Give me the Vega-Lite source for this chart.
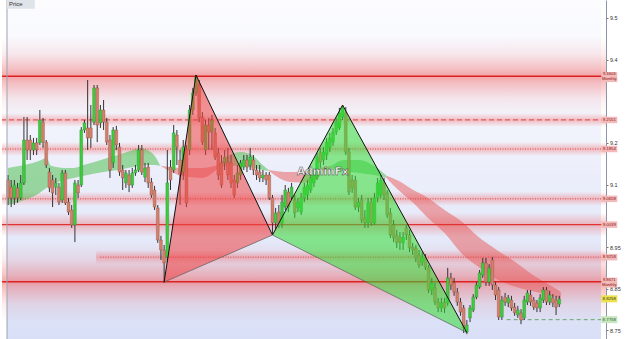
{
  "$schema": "https://vega.github.io/schema/vega-lite/v6.json",
  "width": 604,
  "height": 339,
  "autosize": {"type": "none"},
  "padding": {"left": 2, "right": 19, "top": 0, "bottom": 0},
  "background": "#ffffff",
  "config": {"view": {"stroke": null}, "font": "Liberation Sans"},
  "datasets": {
    "candles": [
      {"t":0,"o":9.111,"h":9.123,"l":9.051,"c":9.068},
      {"t":1,"o":9.094,"h":9.111,"l":9.046,"c":9.068},
      {"t":2,"o":9.068,"h":9.111,"l":9.051,"c":9.099},
      {"t":3,"o":9.092,"h":9.104,"l":9.056,"c":9.068},
      {"t":4,"o":9.068,"h":9.123,"l":9.063,"c":9.104},
      {"t":5,"o":9.104,"h":9.262,"l":9.099,"c":9.207},
      {"t":6,"o":9.207,"h":9.262,"l":9.159,"c":9.183},
      {"t":7,"o":9.207,"h":9.219,"l":9.159,"c":9.183},
      {"t":8,"o":9.183,"h":9.212,"l":9.171,"c":9.200},
      {"t":9,"o":9.200,"h":9.212,"l":9.171,"c":9.183},
      {"t":10,"o":9.200,"h":9.279,"l":9.195,"c":9.255},
      {"t":11,"o":9.250,"h":9.260,"l":9.188,"c":9.202},
      {"t":12,"o":9.202,"h":9.207,"l":9.140,"c":9.147},
      {"t":13,"o":9.130,"h":9.140,"l":9.082,"c":9.092},
      {"t":14,"o":9.111,"h":9.123,"l":9.046,"c":9.080},
      {"t":15,"o":9.094,"h":9.116,"l":9.075,"c":9.104},
      {"t":16,"o":9.094,"h":9.104,"l":9.051,"c":9.058},
      {"t":17,"o":9.063,"h":9.135,"l":9.056,"c":9.128},
      {"t":18,"o":9.128,"h":9.135,"l":9.051,"c":9.056},
      {"t":19,"o":9.058,"h":9.068,"l":9.027,"c":9.034},
      {"t":20,"o":9.039,"h":9.051,"l":8.996,"c":9.003},
      {"t":21,"o":9.003,"h":9.111,"l":8.962,"c":9.104},
      {"t":22,"o":9.099,"h":9.111,"l":9.068,"c":9.080},
      {"t":23,"o":9.099,"h":9.238,"l":9.094,"c":9.231},
      {"t":24,"o":9.231,"h":9.255,"l":9.224,"c":9.248},
      {"t":25,"o":9.236,"h":9.351,"l":9.183,"c":9.212},
      {"t":26,"o":9.236,"h":9.291,"l":9.188,"c":9.212},
      {"t":27,"o":9.250,"h":9.339,"l":9.243,"c":9.332},
      {"t":28,"o":9.332,"h":9.339,"l":9.202,"c":9.243},
      {"t":29,"o":9.248,"h":9.291,"l":9.236,"c":9.279},
      {"t":30,"o":9.279,"h":9.303,"l":9.231,"c":9.250},
      {"t":31,"o":9.250,"h":9.260,"l":9.195,"c":9.202},
      {"t":32,"o":9.207,"h":9.219,"l":9.116,"c":9.135},
      {"t":33,"o":9.152,"h":9.238,"l":9.140,"c":9.231},
      {"t":34,"o":9.231,"h":9.241,"l":9.183,"c":9.195},
      {"t":35,"o":9.190,"h":9.200,"l":9.121,"c":9.130},
      {"t":36,"o":9.135,"h":9.147,"l":9.087,"c":9.116},
      {"t":37,"o":9.104,"h":9.135,"l":9.092,"c":9.128},
      {"t":38,"o":9.123,"h":9.135,"l":9.082,"c":9.099},
      {"t":39,"o":9.099,"h":9.140,"l":9.092,"c":9.128},
      {"t":40,"o":9.128,"h":9.147,"l":9.121,"c":9.135},
      {"t":41,"o":9.135,"h":9.195,"l":9.130,"c":9.183},
      {"t":42,"o":9.183,"h":9.195,"l":9.123,"c":9.130},
      {"t":43,"o":9.118,"h":9.152,"l":9.106,"c":9.140},
      {"t":44,"o":9.142,"h":9.152,"l":9.092,"c":9.104},
      {"t":45,"o":9.106,"h":9.116,"l":9.068,"c":9.075},
      {"t":46,"o":9.087,"h":9.097,"l":9.039,"c":9.046},
      {"t":47,"o":9.044,"h":9.051,"l":8.960,"c":8.967},
      {"t":48,"o":8.967,"h":8.977,"l":8.919,"c":8.943},
      {"t":49,"o":8.943,"h":8.955,"l":8.864,"c":8.912},
      {"t":50,"o":8.926,"h":9.183,"l":8.914,"c":9.104},
      {"t":51,"o":9.142,"h":9.159,"l":9.087,"c":9.111},
      {"t":52,"o":9.135,"h":9.243,"l":9.128,"c":9.224},
      {"t":53,"o":9.219,"h":9.231,"l":9.147,"c":9.190},
      {"t":54,"o":9.159,"h":9.183,"l":9.051,"c":9.123},
      {"t":55,"o":9.130,"h":9.207,"l":9.111,"c":9.190},
      {"t":56,"o":9.183,"h":9.195,"l":9.046,"c":9.056},
      {"t":57,"o":9.183,"h":9.291,"l":9.171,"c":9.279},
      {"t":58,"o":9.279,"h":9.332,"l":9.267,"c":9.320},
      {"t":59,"o":9.320,"h":9.363,"l":9.313,"c":9.358},
      {"t":60,"o":9.339,"h":9.351,"l":9.250,"c":9.260},
      {"t":61,"o":9.262,"h":9.274,"l":9.195,"c":9.202},
      {"t":62,"o":9.183,"h":9.255,"l":9.171,"c":9.243},
      {"t":63,"o":9.243,"h":9.260,"l":9.183,"c":9.226},
      {"t":64,"o":9.226,"h":9.267,"l":9.183,"c":9.255},
      {"t":65,"o":9.224,"h":9.236,"l":9.159,"c":9.166},
      {"t":66,"o":9.176,"h":9.188,"l":9.111,"c":9.123},
      {"t":67,"o":9.152,"h":9.171,"l":9.092,"c":9.099},
      {"t":68,"o":9.152,"h":9.183,"l":9.135,"c":9.166},
      {"t":69,"o":9.154,"h":9.188,"l":9.111,"c":9.123},
      {"t":70,"o":9.152,"h":9.171,"l":9.092,"c":9.104},
      {"t":71,"o":9.111,"h":9.123,"l":9.068,"c":9.075},
      {"t":72,"o":9.104,"h":9.147,"l":9.092,"c":9.128},
      {"t":73,"o":9.123,"h":9.159,"l":9.111,"c":9.152},
      {"t":74,"o":9.142,"h":9.171,"l":9.135,"c":9.159},
      {"t":75,"o":9.159,"h":9.171,"l":9.130,"c":9.142},
      {"t":76,"o":9.147,"h":9.188,"l":9.135,"c":9.166},
      {"t":77,"o":9.159,"h":9.171,"l":9.123,"c":9.135},
      {"t":78,"o":9.135,"h":9.147,"l":9.111,"c":9.123},
      {"t":79,"o":9.130,"h":9.147,"l":9.106,"c":9.116},
      {"t":80,"o":9.116,"h":9.135,"l":9.106,"c":9.123},
      {"t":81,"o":9.123,"h":9.130,"l":9.099,"c":9.111},
      {"t":82,"o":9.123,"h":9.130,"l":9.063,"c":9.068},
      {"t":83,"o":9.068,"h":9.075,"l":8.979,"c":9.008},
      {"t":84,"o":9.008,"h":9.044,"l":8.991,"c":9.032},
      {"t":85,"o":9.034,"h":9.051,"l":8.996,"c":9.003},
      {"t":86,"o":9.008,"h":9.075,"l":8.996,"c":9.058},
      {"t":87,"o":9.046,"h":9.099,"l":9.039,"c":9.087},
      {"t":88,"o":9.082,"h":9.092,"l":9.034,"c":9.046},
      {"t":89,"o":9.070,"h":9.104,"l":9.063,"c":9.094},
      {"t":90,"o":9.063,"h":9.075,"l":9.020,"c":9.032},
      {"t":91,"o":9.044,"h":9.068,"l":9.034,"c":9.058},
      {"t":92,"o":9.034,"h":9.080,"l":9.027,"c":9.068},
      {"t":93,"o":9.068,"h":9.104,"l":9.058,"c":9.094},
      {"t":94,"o":9.075,"h":9.111,"l":9.063,"c":9.099},
      {"t":95,"o":9.087,"h":9.130,"l":9.080,"c":9.116},
      {"t":96,"o":9.104,"h":9.135,"l":9.094,"c":9.123},
      {"t":97,"o":9.118,"h":9.176,"l":9.111,"c":9.166},
      {"t":98,"o":9.176,"h":9.188,"l":9.140,"c":9.154},
      {"t":99,"o":9.159,"h":9.190,"l":9.147,"c":9.178},
      {"t":100,"o":9.171,"h":9.212,"l":9.159,"c":9.202},
      {"t":101,"o":9.188,"h":9.224,"l":9.178,"c":9.212},
      {"t":102,"o":9.202,"h":9.236,"l":9.193,"c":9.226},
      {"t":103,"o":9.226,"h":9.260,"l":9.219,"c":9.250},
      {"t":104,"o":9.236,"h":9.284,"l":9.231,"c":9.272},
      {"t":105,"o":9.262,"h":9.291,"l":9.255,"c":9.284},
      {"t":106,"o":9.272,"h":9.286,"l":9.171,"c":9.178},
      {"t":107,"o":9.178,"h":9.188,"l":9.075,"c":9.082},
      {"t":108,"o":9.111,"h":9.123,"l":9.080,"c":9.092},
      {"t":109,"o":9.111,"h":9.121,"l":9.039,"c":9.046},
      {"t":110,"o":9.046,"h":9.068,"l":9.034,"c":9.058},
      {"t":111,"o":9.063,"h":9.075,"l":9.008,"c":9.015},
      {"t":112,"o":9.020,"h":9.039,"l":8.996,"c":9.008},
      {"t":113,"o":9.008,"h":9.068,"l":8.996,"c":9.056},
      {"t":114,"o":9.058,"h":9.068,"l":9.001,"c":9.008},
      {"t":115,"o":9.008,"h":9.080,"l":9.003,"c":9.068},
      {"t":116,"o":9.068,"h":9.116,"l":9.058,"c":9.104},
      {"t":117,"o":9.075,"h":9.123,"l":9.068,"c":9.111},
      {"t":118,"o":9.104,"h":9.116,"l":9.063,"c":9.075},
      {"t":119,"o":9.080,"h":9.087,"l":9.020,"c":9.027},
      {"t":120,"o":9.032,"h":9.044,"l":8.972,"c":8.979},
      {"t":121,"o":9.003,"h":9.015,"l":8.962,"c":8.972},
      {"t":122,"o":8.979,"h":8.991,"l":8.948,"c":8.960},
      {"t":123,"o":8.974,"h":8.986,"l":8.943,"c":8.962},
      {"t":124,"o":8.960,"h":8.986,"l":8.943,"c":8.974},
      {"t":125,"o":8.996,"h":9.003,"l":8.967,"c":8.979},
      {"t":126,"o":8.979,"h":8.991,"l":8.938,"c":8.948},
      {"t":127,"o":8.950,"h":8.960,"l":8.931,"c":8.943},
      {"t":128,"o":8.948,"h":8.955,"l":8.914,"c":8.924},
      {"t":129,"o":8.931,"h":8.943,"l":8.900,"c":8.907},
      {"t":130,"o":8.914,"h":8.938,"l":8.905,"c":8.926},
      {"t":131,"o":8.924,"h":8.933,"l":8.895,"c":8.902},
      {"t":132,"o":8.900,"h":8.907,"l":8.840,"c":8.847},
      {"t":133,"o":8.847,"h":8.876,"l":8.835,"c":8.864},
      {"t":134,"o":8.852,"h":8.864,"l":8.811,"c":8.818},
      {"t":135,"o":8.818,"h":8.828,"l":8.794,"c":8.804},
      {"t":136,"o":8.804,"h":8.828,"l":8.794,"c":8.816},
      {"t":137,"o":8.818,"h":8.828,"l":8.792,"c":8.804},
      {"t":138,"o":8.816,"h":8.900,"l":8.809,"c":8.876},
      {"t":139,"o":8.876,"h":8.888,"l":8.847,"c":8.859},
      {"t":140,"o":8.864,"h":8.876,"l":8.833,"c":8.842},
      {"t":141,"o":8.842,"h":8.852,"l":8.809,"c":8.818},
      {"t":142,"o":8.818,"h":8.828,"l":8.785,"c":8.794},
      {"t":143,"o":8.804,"h":8.811,"l":8.744,"c":8.756},
      {"t":144,"o":8.746,"h":8.775,"l":8.741,"c":8.763},
      {"t":145,"o":8.780,"h":8.811,"l":8.770,"c":8.804},
      {"t":146,"o":8.799,"h":8.837,"l":8.794,"c":8.830},
      {"t":147,"o":8.830,"h":8.866,"l":8.825,"c":8.859},
      {"t":148,"o":8.854,"h":8.895,"l":8.850,"c":8.888},
      {"t":149,"o":8.883,"h":8.924,"l":8.876,"c":8.912},
      {"t":150,"o":8.912,"h":8.924,"l":8.857,"c":8.866},
      {"t":151,"o":8.866,"h":8.909,"l":8.857,"c":8.900},
      {"t":152,"o":8.919,"h":8.926,"l":8.847,"c":8.859},
      {"t":153,"o":8.859,"h":8.866,"l":8.823,"c":8.835},
      {"t":154,"o":8.847,"h":8.854,"l":8.775,"c":8.782},
      {"t":155,"o":8.782,"h":8.833,"l":8.775,"c":8.823},
      {"t":156,"o":8.830,"h":8.840,"l":8.809,"c":8.818},
      {"t":157,"o":8.816,"h":8.835,"l":8.806,"c":8.828},
      {"t":158,"o":8.823,"h":8.833,"l":8.797,"c":8.804},
      {"t":159,"o":8.806,"h":8.816,"l":8.785,"c":8.792},
      {"t":160,"o":8.787,"h":8.809,"l":8.780,"c":8.799},
      {"t":161,"o":8.792,"h":8.801,"l":8.765,"c":8.775},
      {"t":162,"o":8.780,"h":8.833,"l":8.775,"c":8.823},
      {"t":163,"o":8.818,"h":8.847,"l":8.811,"c":8.840},
      {"t":164,"o":8.835,"h":8.847,"l":8.809,"c":8.818},
      {"t":165,"o":8.823,"h":8.830,"l":8.799,"c":8.806},
      {"t":166,"o":8.816,"h":8.823,"l":8.794,"c":8.804},
      {"t":167,"o":8.804,"h":8.837,"l":8.794,"c":8.828},
      {"t":168,"o":8.823,"h":8.854,"l":8.816,"c":8.847},
      {"t":169,"o":8.847,"h":8.854,"l":8.811,"c":8.818},
      {"t":170,"o":8.818,"h":8.845,"l":8.811,"c":8.835},
      {"t":171,"o":8.828,"h":8.837,"l":8.806,"c":8.816},
      {"t":172,"o":8.823,"h":8.833,"l":8.787,"c":8.806},
      {"t":173,"o":8.813,"h":8.833,"l":8.806,"c":8.825}
    ],
    "ribbon": [
      {"t":0,"hi":9.140,"lo":9.051,"seg":"a","trend":"up"},
      {"t":5.2,"hi":9.147,"lo":9.063,"seg":"a","trend":"up"},
      {"t":9.9,"hi":9.157,"lo":9.080,"seg":"a","trend":"up"},
      {"t":12,"hi":9.164,"lo":9.092,"seg":"a","trend":"up"},
      {"t":13.6,"hi":9.145,"lo":9.099,"seg":"a","trend":"up"},
      {"t":17.6,"hi":9.140,"lo":9.111,"seg":"a","trend":"up"},
      {"t":20.7,"hi":9.140,"lo":9.116,"seg":"a","trend":"up"},
      {"t":23.8,"hi":9.147,"lo":9.121,"seg":"a","trend":"up"},
      {"t":29.9,"hi":9.161,"lo":9.130,"seg":"a","trend":"up"},
      {"t":34.6,"hi":9.171,"lo":9.135,"seg":"a","trend":"up"},
      {"t":39.2,"hi":9.183,"lo":9.142,"seg":"a","trend":"up"},
      {"t":41.4,"hi":9.188,"lo":9.145,"seg":"a","trend":"up"},
      {"t":43.8,"hi":9.183,"lo":9.147,"seg":"a","trend":"up"},
      {"t":46,"hi":9.169,"lo":9.147,"seg":"a","trend":"up"},
      {"t":47.8,"hi":9.145,"lo":9.145,"seg":"a","trend":"up"},
      {"t":47.8,"hi":9.145,"lo":9.145,"seg":"b","trend":"down"},
      {"t":54.6,"hi":9.140,"lo":9.121,"seg":"b","trend":"down"},
      {"t":60.8,"hi":9.140,"lo":9.116,"seg":"b","trend":"down"},
      {"t":66,"hi":9.147,"lo":9.140,"seg":"b","trend":"down"},
      {"t":66,"hi":9.147,"lo":9.140,"seg":"c","trend":"up"},
      {"t":69.4,"hi":9.171,"lo":9.145,"seg":"c","trend":"up"},
      {"t":73.1,"hi":9.178,"lo":9.145,"seg":"c","trend":"up"},
      {"t":76.9,"hi":9.169,"lo":9.140,"seg":"c","trend":"up"},
      {"t":79.9,"hi":9.147,"lo":9.135,"seg":"c","trend":"up"},
      {"t":81.8,"hi":9.135,"lo":9.133,"seg":"c","trend":"up"},
      {"t":81.8,"hi":9.135,"lo":9.133,"seg":"d","trend":"down"},
      {"t":88.6,"hi":9.130,"lo":9.106,"seg":"d","trend":"down"},
      {"t":94.8,"hi":9.135,"lo":9.104,"seg":"d","trend":"down"},
      {"t":99.4,"hi":9.142,"lo":9.130,"seg":"d","trend":"down"},
      {"t":101.5,"hi":9.145,"lo":9.140,"seg":"d","trend":"down"},
      {"t":101.5,"hi":9.145,"lo":9.140,"seg":"e","trend":"up"},
      {"t":105.6,"hi":9.159,"lo":9.130,"seg":"e","trend":"up"},
      {"t":110.2,"hi":9.159,"lo":9.128,"seg":"e","trend":"up"},
      {"t":114.8,"hi":9.145,"lo":9.123,"seg":"e","trend":"up"},
      {"t":118.8,"hi":9.121,"lo":9.116,"seg":"e","trend":"up"},
      {"t":118.8,"hi":9.121,"lo":9.116,"seg":"f","trend":"down"},
      {"t":122.5,"hi":9.109,"lo":9.087,"seg":"f","trend":"down"},
      {"t":127.2,"hi":9.087,"lo":9.056,"seg":"f","trend":"down"},
      {"t":131.8,"hi":9.068,"lo":9.020,"seg":"f","trend":"down"},
      {"t":137,"hi":9.039,"lo":8.984,"seg":"f","trend":"down"},
      {"t":142.6,"hi":9.010,"lo":8.933,"seg":"f","trend":"down"},
      {"t":147.2,"hi":8.977,"lo":8.905,"seg":"f","trend":"down"},
      {"t":153.4,"hi":8.943,"lo":8.873,"seg":"f","trend":"down"},
      {"t":159.6,"hi":8.912,"lo":8.854,"seg":"f","trend":"down"},
      {"t":165.7,"hi":8.878,"lo":8.842,"seg":"f","trend":"down"},
      {"t":170.4,"hi":8.857,"lo":8.833,"seg":"f","trend":"down"},
      {"t":173.5,"hi":8.842,"lo":8.823,"seg":"f","trend":"down"}
    ],
    "levels": [
      {"price":9.3603,"label":"9.3603","tf":"Monthly"},
      {"price":9.2551,"label":"9.2551","tf":""},
      {"price":9.1854,"label":"9.1854","tf":""},
      {"price":9.0658,"label":"9.0658","tf":""},
      {"price":9.0039,"label":"9.0039","tf":""},
      {"price":8.9258,"label":"8.9258","tf":""},
      {"price":8.8671,"label":"8.8671","tf":"Monthly"}
    ],
    "tags": [
      {"price":8.8258,"label":"8.8258","kind":"bid"},
      {"price":8.7758,"label":"8.7758","kind":"target"}
    ],
    "patterns": [
      {"pattern":"P1","k":0,"t":49,"p":8.866},
      {"pattern":"P1","k":1,"t":59,"p":9.363},
      {"pattern":"P1","k":2,"t":83,"p":8.979},
      {"pattern":"P2","k":0,"t":83,"p":8.979},
      {"pattern":"P2","k":1,"t":105,"p":9.291},
      {"pattern":"P2","k":2,"t":144,"p":8.745}
    ]
  },
  "layer": [
    {
      "data": {"name": "candles"},
      "mark": {"type": "rule", "opacity": 0},
      "encoding": {
        "x": {"field": "t", "type": "quantitative", "scale": {"domain": [-0.31, 186.1], "nice": false, "zero": false}, "axis": null},
        "y": {"field": "l", "type": "quantitative", "scale": {"domain": [8.7294, 9.543], "nice": false, "zero": false},
          "axis": {"orient": "right", "values": [8.75,8.8,8.85,8.9,8.95,9.05,9.1,9.15,9.2,9.3,9.4,9.45,9.5], "format": ".2~f", "labelFontSize": 5.5, "labelColor": "#333333", "tickSize": 2, "tickColor": "#777777", "domainColor": "#8a96a8", "labelPadding": 1.5, "grid": false, "title": null, "labelOverlap": false, "labelFlush": false,
            "encode": {"labels": {"update": {"dy": {"signal": "datum.value == 9.05 ? 1 : (datum.value == 8.85 ? 1.5 : 0)"}}}}}},
        "y2": {"field": "h"}
      }
    },
    {
      "data": {"values": [{"a": 1}]},
      "mark": {"type": "rect", "color": {"gradient": "linear", "x1": 0, "y1": 0, "x2": 0, "y2": 1, "stops": [{"offset": 0, "color": "#fcfcff"}, {"offset": 0.35, "color": "#f2f4fc"}, {"offset": 1, "color": "#d9dff6"}]}},
      "encoding": {
        "x": {"datum": -0.31, "type": "quantitative", "axis": null},
        "x2": {"datum": 186.1},
        "y": {"datum": 9.543, "type": "quantitative"},
        "y2": {"datum": 8.7294}
      }
    },
    {"data": {"name": "levels"}, "transform": [{"filter": "datum.tf == 'Monthly'"}],
     "mark": {"type": "tick", "orient": "horizontal", "size": 604, "thickness": 80, "opacity": 1,
       "color": {"gradient": "linear", "x1": 0, "y1": 0, "x2": 0, "y2": 1, "stops": [{"offset": 0, "color": "rgba(240,80,80,0)"}, {"offset": 0.22, "color": "rgba(240,80,80,0.1)"}, {"offset": 0.42, "color": "rgba(240,80,80,0.35)"}, {"offset": 0.5, "color": "rgba(240,80,80,0.5)"}, {"offset": 0.58, "color": "rgba(240,80,80,0.35)"}, {"offset": 0.78, "color": "rgba(240,80,80,0.1)"}, {"offset": 1, "color": "rgba(240,80,80,0)"}]}},
     "encoding": {"x": {"datum": 92.9, "type": "quantitative", "axis": null}, "y": {"field": "price", "type": "quantitative"}}},
    {"data": {"name": "levels"}, "transform": [{"filter": "datum.price == 9.0039"}],
     "mark": {"type": "tick", "orient": "horizontal", "size": 604, "thickness": 24, "opacity": 1,
       "color": {"gradient": "linear", "x1": 0, "y1": 0, "x2": 0, "y2": 1, "stops": [{"offset": 0, "color": "rgba(240,80,80,0)"}, {"offset": 0.5, "color": "rgba(240,80,80,0.35)"}, {"offset": 1, "color": "rgba(240,80,80,0)"}]}},
     "encoding": {"x": {"datum": 92.9, "type": "quantitative", "axis": null}, "y": {"field": "price", "type": "quantitative"}}},
    {"data": {"name": "levels"}, "transform": [{"filter": "datum.price == 9.2551 || datum.price == 9.1854 || datum.price == 9.0658"}],
     "mark": {"type": "tick", "orient": "horizontal", "size": 604, "thickness": 14, "opacity": 1,
       "color": {"gradient": "linear", "x1": 0, "y1": 0, "x2": 0, "y2": 1, "stops": [{"offset": 0, "color": "rgba(240,80,80,0)"}, {"offset": 0.5, "color": "rgba(240,80,80,0.35)"}, {"offset": 1, "color": "rgba(240,80,80,0)"}]}},
     "encoding": {"x": {"datum": 92.9, "type": "quantitative", "axis": null}, "y": {"field": "price", "type": "quantitative"}}},
    {"data": {"name": "levels"}, "transform": [{"filter": "datum.price == 8.9258"}],
     "mark": {"type": "tick", "orient": "horizontal", "size": 509, "thickness": 14, "opacity": 1,
       "color": {"gradient": "linear", "x1": 0, "y1": 0, "x2": 0, "y2": 1, "stops": [{"offset": 0, "color": "rgba(240,80,80,0)"}, {"offset": 0.5, "color": "rgba(240,80,80,0.35)"}, {"offset": 1, "color": "rgba(240,80,80,0)"}]}},
     "encoding": {"x": {"datum": 107.55, "type": "quantitative", "axis": null}, "y": {"field": "price", "type": "quantitative"}}},
    {
      "data": {"name": "ribbon"},
      "mark": {"type": "area", "interpolate": "monotone", "opacity": 0.5},
      "encoding": {
        "x": {"field": "t", "type": "quantitative", "axis": null},
        "y": {"field": "hi", "type": "quantitative"},
        "y2": {"field": "lo"},
        "detail": {"field": "seg", "type": "nominal"},
        "color": {"condition": {"test": "datum.trend == 'up'", "value": "#44bb44"}, "value": "#e85858"}
      }
    },
    {"data": {"name": "levels"}, "transform": [{"filter": "datum.tf == 'Monthly'"}], "mark": {"type": "rule", "color": "#dd2222", "strokeWidth": 1.5}, "encoding": {"y": {"field": "price", "type": "quantitative"}}},
    {"data": {"name": "levels"}, "transform": [{"filter": "datum.price == 9.0039"}], "mark": {"type": "rule", "color": "#e03333", "strokeWidth": 1.2}, "encoding": {"y": {"field": "price", "type": "quantitative"}}},
    {"data": {"name": "levels"}, "transform": [{"filter": "datum.price == 9.2551"}], "mark": {"type": "rule", "color": "#e05858", "strokeWidth": 1.3, "strokeDash": [5, 3]}, "encoding": {"y": {"field": "price", "type": "quantitative"}}},
    {"data": {"name": "levels"}, "transform": [{"filter": "datum.price == 9.1854 || datum.price == 9.0658"}], "mark": {"type": "rule", "color": "#e04848", "strokeWidth": 1, "strokeDash": [1, 1.5]}, "encoding": {"y": {"field": "price", "type": "quantitative"}}},
    {"data": {"name": "levels"}, "transform": [{"filter": "datum.price == 8.9258"}], "mark": {"type": "rule", "color": "#e04848", "strokeWidth": 1, "strokeDash": [1, 1.5]}, "encoding": {"x": {"datum": 29, "type": "quantitative", "axis": null}, "x2": {"datum": 186.1}, "y": {"field": "price", "type": "quantitative"}}},
    {"data": {"name": "tags"}, "transform": [{"filter": "datum.kind == 'target'"}], "mark": {"type": "rule", "color": "#6aa86a", "strokeWidth": 1, "strokeDash": [4, 3]}, "encoding": {"x": {"datum": 156.5, "type": "quantitative", "axis": null}, "x2": {"datum": 186.1}, "y": {"field": "price", "type": "quantitative"}}},
    {
      "data": {"name": "candles"},
      "mark": {"type": "rule", "color": "#333333", "strokeWidth": 1},
      "encoding": {
        "x": {"field": "t", "type": "quantitative", "axis": null},
        "y": {"field": "l", "type": "quantitative"},
        "y2": {"field": "h"}
      }
    },
    {
      "data": {"name": "candles"},
      "mark": {"type": "bar", "width": 2.8, "strokeWidth": 0.4},
      "encoding": {
        "x": {"field": "t", "type": "quantitative", "axis": null},
        "y": {"field": "o", "type": "quantitative"},
        "y2": {"field": "c"},
        "fill": {"condition": {"test": "datum.c >= datum.o", "value": "#3dcc3d"}, "value": "#d4806c"},
        "stroke": {"condition": {"test": "datum.c >= datum.o", "value": "#2d8a2d"}, "value": "#8e4e40"}
      }
    },
    {
      "data": {"name": "patterns"},
      "transform": [{"filter": "datum.pattern == 'P1'"}],
      "mark": {"type": "line", "filled": true, "color": "#ee4444", "fillOpacity": 0.55, "stroke": "#111111", "strokeWidth": 1},
      "encoding": {
        "x": {"field": "t", "type": "quantitative", "axis": null},
        "y": {"field": "p", "type": "quantitative"}
      }
    },
    {
      "data": {"name": "patterns"},
      "transform": [{"filter": "datum.pattern == 'P2'"}],
      "mark": {"type": "line", "filled": true, "color": "#33dd33", "fillOpacity": 0.55, "stroke": "#111111", "strokeWidth": 1},
      "encoding": {
        "x": {"field": "t", "type": "quantitative", "axis": null},
        "y": {"field": "p", "type": "quantitative"}
      }
    },
    {
      "data": {"name": "patterns"},
      "transform": [{"filter": "datum.k != 1"}],
      "mark": {"type": "line", "color": "#5a5a5a", "strokeWidth": 0.7},
      "encoding": {
        "x": {"field": "t", "type": "quantitative", "axis": null},
        "y": {"field": "p", "type": "quantitative"},
        "detail": {"field": "pattern", "type": "nominal"}
      }
    },
    {
      "data": {"values": [{"a": 1}]},
      "mark": {"type": "text", "text": "AdminFx", "font": "DejaVu Sans", "fontSize": 10.5, "fontWeight": "bold", "fill": "#ffffff", "stroke": "#444444", "strokeWidth": 0.5, "align": "center", "baseline": "middle"},
      "encoding": {"x": {"datum": 98.8, "type": "quantitative", "axis": null}, "y": {"datum": 9.13, "type": "quantitative"}}
    },
    {"data": {"name": "levels"}, "transform": [{"filter": "datum.tf != 'Monthly'"}], "mark": {"type": "tick", "orient": "horizontal", "size": 16, "thickness": 6.5, "color": "#f3baba", "opacity": 1}, "encoding": {"x": {"datum": 188.7, "type": "quantitative", "axis": null}, "y": {"field": "price", "type": "quantitative"}}},
    {"data": {"name": "levels"}, "transform": [{"filter": "datum.tf == 'Monthly'"}], "mark": {"type": "tick", "orient": "horizontal", "size": 16, "thickness": 10, "color": "#f3baba", "opacity": 1, "yOffset": 1}, "encoding": {"x": {"datum": 188.7, "type": "quantitative", "axis": null}, "y": {"field": "price", "type": "quantitative"}}},
    {"data": {"name": "tags"}, "transform": [{"filter": "datum.kind == 'bid'"}], "mark": {"type": "tick", "orient": "horizontal", "size": 16, "thickness": 7, "color": "#ece24a", "opacity": 1}, "encoding": {"x": {"datum": 188.7, "type": "quantitative", "axis": null}, "y": {"field": "price", "type": "quantitative"}}},
    {"data": {"name": "tags"}, "transform": [{"filter": "datum.kind == 'target'"}], "mark": {"type": "tick", "orient": "horizontal", "size": 16, "thickness": 7, "color": "#c6e6c0", "opacity": 1}, "encoding": {"x": {"datum": 188.7, "type": "quantitative", "axis": null}, "y": {"field": "price", "type": "quantitative"}}},
    {"data": {"name": "levels"}, "transform": [{"filter": "datum.tf != 'Monthly'"}], "mark": {"type": "text", "fontSize": 4.3, "color": "#8a1010", "align": "center", "baseline": "middle"}, "encoding": {"x": {"datum": 188.7, "type": "quantitative", "axis": null}, "y": {"field": "price", "type": "quantitative"}, "text": {"field": "label", "type": "nominal"}}},
    {"data": {"name": "levels"}, "transform": [{"filter": "datum.tf == 'Monthly'"}], "mark": {"type": "text", "fontSize": 4.2, "color": "#8a1010", "align": "center", "baseline": "middle", "dy": -1.8}, "encoding": {"x": {"datum": 188.7, "type": "quantitative", "axis": null}, "y": {"field": "price", "type": "quantitative"}, "text": {"field": "label", "type": "nominal"}}},
    {"data": {"name": "levels"}, "transform": [{"filter": "datum.tf == 'Monthly'"}], "mark": {"type": "text", "fontSize": 4.2, "color": "#8a1010", "align": "center", "baseline": "middle", "dy": 3}, "encoding": {"x": {"datum": 188.7, "type": "quantitative", "axis": null}, "y": {"field": "price", "type": "quantitative"}, "text": {"field": "tf", "type": "nominal"}}},
    {"data": {"name": "tags"}, "transform": [{"filter": "datum.kind == 'bid'"}], "mark": {"type": "text", "fontSize": 4.4, "color": "#333333", "align": "center", "baseline": "middle"}, "encoding": {"x": {"datum": 188.7, "type": "quantitative", "axis": null}, "y": {"field": "price", "type": "quantitative"}, "text": {"field": "label", "type": "nominal"}}},
    {"data": {"name": "tags"}, "transform": [{"filter": "datum.kind == 'target'"}], "mark": {"type": "text", "fontSize": 4.4, "color": "#2a5a2a", "align": "center", "baseline": "middle"}, "encoding": {"x": {"datum": 188.7, "type": "quantitative", "axis": null}, "y": {"field": "price", "type": "quantitative"}, "text": {"field": "label", "type": "nominal"}}},
    {"data": {"values": [{"a": 1}]}, "mark": {"type": "rule", "color": "#9aa3b3", "strokeWidth": 1}, "encoding": {"x": {"datum": -0.31, "type": "quantitative", "axis": null}}},
    {"data": {"values": [{"a": 1}]}, "mark": {"type": "tick", "orient": "horizontal", "size": 28, "thickness": 9, "color": "#dfe3ea", "opacity": 1}, "encoding": {"x": {"datum": 4.0, "type": "quantitative", "axis": null}, "y": {"datum": 9.533, "type": "quantitative"}}},
    {"data": {"values": [{"a": 1}]}, "mark": {"type": "text", "text": "Price", "fontSize": 6, "color": "#333333", "align": "left", "baseline": "middle"}, "encoding": {"x": {"datum": 0.3, "type": "quantitative", "axis": null}, "y": {"datum": 9.533, "type": "quantitative"}}}
  ]
}
